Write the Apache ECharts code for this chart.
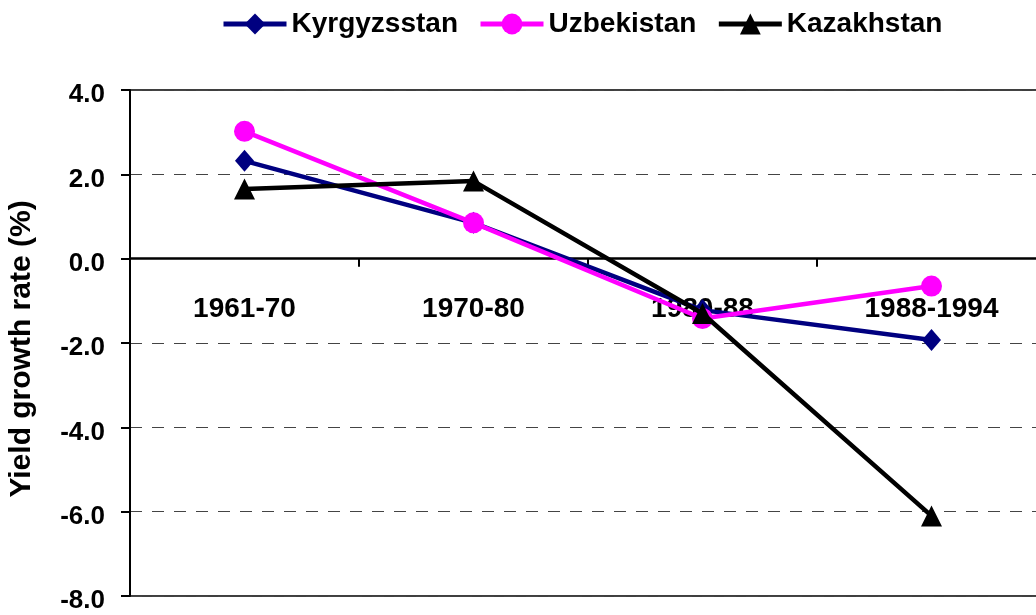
<!DOCTYPE html>
<html>
<head>
<meta charset="utf-8">
<script src="https://cdn.jsdelivr.net/npm/echarts@6/dist/echarts.min.js"></script>
<style>
  html, body { margin: 0; padding: 0; background: #fff; }
  #chart { width: 1036px; height: 615px; }
</style>
</head>
<body>
<div id="chart"></div>
<script>
// periods on the x axis
var periods = ['1961-70', '1970-80', '1980-88', '1988-1994'];
// yield growth rate (%) per country
var kyrgyzstan = [2.32, 0.85, -1.22, -1.93];
var uzbekistan = [3.02, 0.85, -1.42, -0.65];
var kazakhstan = [1.65, 1.84, -1.3, -6.1];
var yMin = -8, yMax = 4, yStep = 2;

var font = 'Arial, "Liberation Sans", sans-serif';
var chart = echarts.init(document.getElementById('chart'));

// grid geometry, used to put the category axis on the zero line
var gridTop = 90, gridBottom = 19;
var plotH = 615 - gridTop - gridBottom;
var zeroOffset = -plotH * (0 - yMin) / (yMax - yMin);

var option = {
    animation: false,
    textStyle: { fontFamily: font },
    legend: {
        top: 5,
        left: 216,
        itemWidth: 63,
        itemHeight: 26,
        itemGap: 20,
        lineStyle: { width: 5 },
        textStyle: { fontFamily: font, fontSize: 28, fontWeight: 'bold', color: '#000' },
        data: ['Kyrgyzsstan', 'Uzbekistan', 'Kazakhstan']
    },
    grid: {
        left: 130,
        top: gridTop,
        right: -10,
        bottom: gridBottom,
        containLabel: false,
        outerBoundsMode: 'none',
        show: true,
        borderColor: '#000',
        borderWidth: 1.5
    },
    xAxis: {
        type: 'category',
        data: periods,
        boundaryGap: true,
        offset: zeroOffset,
        axisLine: { onZero: false, lineStyle: { color: '#000', width: 2.5 } },
        axisTick: { show: true, length: 8, lineStyle: { color: '#000', width: 2 } },
        axisLabel: {
            margin: 37,
            fontFamily: font,
            fontSize: 28,
            fontWeight: 'bold',
            color: '#000'
        }
    },
    yAxis: {
        type: 'value',
        min: yMin,
        max: yMax,
        interval: yStep,
        name: 'Yield growth rate (%)',
        nameLocation: 'middle',
        nameGap: 93,
        nameTextStyle: { fontFamily: font, fontSize: 30, fontWeight: 'bold', color: '#000', padding: [0, 12, 0, 0] },
        axisLine: { show: true, lineStyle: { color: '#000', width: 2 } },
        axisTick: { show: true, inside: false, length: 9, lineStyle: { color: '#000', width: 2 } },
        axisLabel: {
            margin: 25,
            fontFamily: font,
            fontSize: 26,
            fontWeight: 'bold',
            color: '#000',
            formatter: function (v) { return '{v|' + v.toFixed(1) + '}'; },
            rich: {
                v: { fontFamily: font, fontSize: 26, fontWeight: 'bold', color: '#000', padding: [10, 0, 0, 0] }
            }
        },
        splitLine: { show: true, lineStyle: { color: '#444', width: 1, type: [12, 10] } }
    },
    series: [
        {
            name: 'Kyrgyzsstan',
            type: 'line',
            data: kyrgyzstan,
            color: '#000080',
            symbol: 'diamond',
            symbolSize: [19, 22],
            lineStyle: { width: 4.5 },
            z: 3
        },
        {
            name: 'Uzbekistan',
            type: 'line',
            data: uzbekistan,
            color: '#ff00ff',
            symbol: 'circle',
            symbolSize: 21,
            lineStyle: { width: 4.5 },
            z: 4
        },
        {
            name: 'Kazakhstan',
            type: 'line',
            data: kazakhstan,
            color: '#000000',
            symbol: 'triangle',
            symbolSize: 21,
            lineStyle: { width: 4.5 },
            z: 5
        }
    ]
};
chart.setOption(option);
</script>
</body>
</html>
